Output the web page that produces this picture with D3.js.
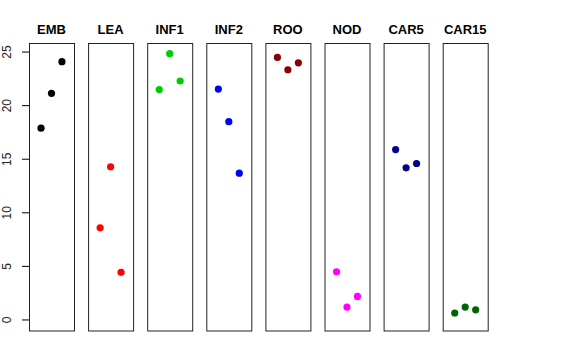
<!DOCTYPE html>
<meta charset="utf-8">
<style>
body { margin: 0; background: #fff; }
text { font-family: "Liberation Sans", Arial, sans-serif; }
.title { font-weight: bold; font-size: 13px; }
.axis text { font-size: 12px; }
</style>
<svg width="576" height="360"></svg>
<script src="https://d3js.org/d3.v7.min.js"></script>
<script>

// tissues, one panel each
var tissues = ["EMB", "LEA", "INF1", "INF2", "ROO", "NOD", "CAR5", "CAR15"];
var colours = ["#000000", "#FF0000", "#00CD00", "#0000FF", "#8B0000", "#FF00FF", "#00008B", "#006400"];

// three replicate values per tissue
var rep1 = [17.9, 8.6, 21.5, 21.55, 24.5, 4.5, 15.9, 0.65];
var rep2 = [21.15, 14.3, 24.85, 18.5, 23.35, 1.2, 14.2, 1.2];
var rep3 = [24.1, 4.45, 22.3, 13.7, 24.0, 2.2, 14.6, 0.95];

var yTicks = [0, 5, 10, 15, 20, 25];

var svg = d3.select("svg");

var plotTop = 43.5, plotBottom = 331,
    panelW = 45, step = 59.1, left0 = 29;

var y = d3.scaleLinear().domain([-1.03, 25.8]).range([plotBottom, plotTop]);
var x = d3.scaleLinear().domain([-0.15, 4.15]).range([0, panelW]);

// left axis: ticks and rotated labels (spine sits on the first panel's frame)
var axis = svg.append("g").attr("class", "axis");

axis.selectAll(".tick")
    .data(yTicks)
    .enter()
    .append("line")
    .attr("class", "tick")
    .attr("x1", left0 - 7).attr("x2", left0)
    .attr("y1", function(d) { return y(d); })
    .attr("y2", function(d) { return y(d); })
    .attr("stroke", "#000");

axis.selectAll("text")
    .data(yTicks)
    .enter()
    .append("text")
    .attr("transform", function(d) { return "translate(11," + y(d) + ") rotate(-90)"; })
    .attr("text-anchor", "middle")
    .attr("fill", "#222")
    .text(function(d) { return d; });

var panels = svg.selectAll(".panel")
    .data(tissues)
    .enter()
    .append("g")
    .attr("class", "panel")
    .attr("transform", function(d, i) { return "translate(" + (left0 + i * step) + ",0)"; });

panels.append("rect")
    .attr("x", 0.5).attr("y", plotTop)
    .attr("width", panelW).attr("height", plotBottom - plotTop)
    .attr("fill", "none")
    .attr("stroke", "#222");

panels.append("text")
    .attr("class", "title")
    .attr("x", panelW / 2)
    .attr("y", 34)
    .attr("text-anchor", "middle")
    .text(function(d) { return d; });

panels.each(function(d, i) {
    var vals = [rep1[i], rep2[i], rep3[i]];
    d3.select(this).selectAll("circle")
        .data(vals)
        .enter()
        .append("circle")
        .attr("cx", function(v, j) { return x(j + 1); })
        .attr("cy", function(v) { return y(v); })
        .attr("r", 3.6)
        .attr("fill", colours[i]);
});

</script>
